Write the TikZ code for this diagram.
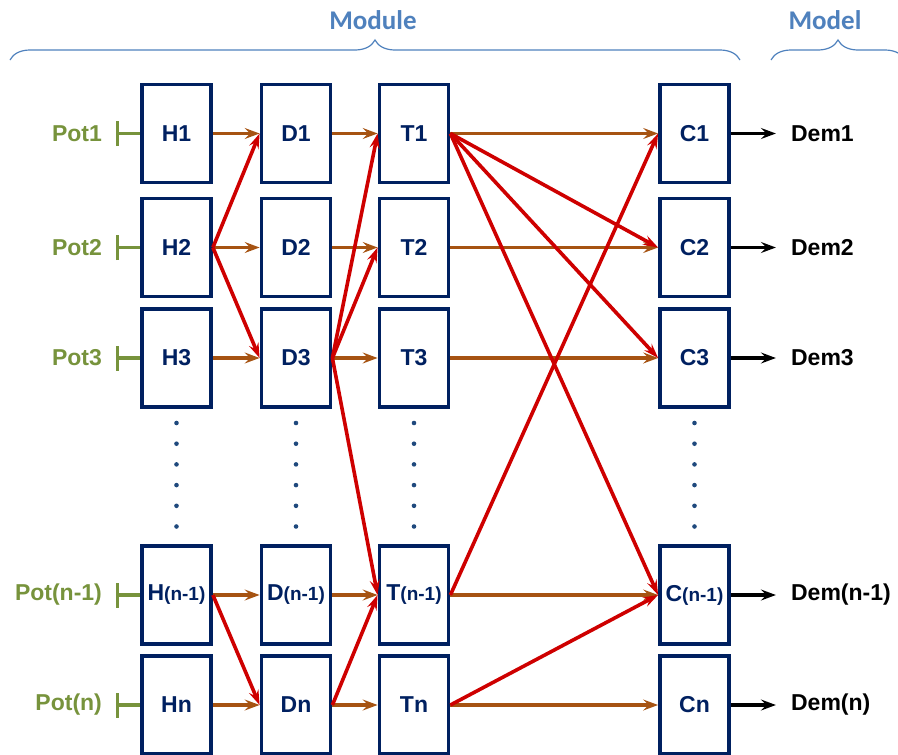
\documentclass[tikz,border=0pt]{standalone}
\usepackage{fontspec}
\setmainfont{Liberation Sans}
\newfontfamily\calib{Carlito}
\usetikzlibrary{arrows.meta,decorations.pathreplacing,calc}
\definecolor{navy}{RGB}{0,32,96}
\definecolor{brn}{RGB}{166,83,18}
\definecolor{rd}{RGB}{206,0,0}
\definecolor{grn}{RGB}{119,147,60}
\definecolor{bl}{RGB}{79,129,189}
\definecolor{dotc}{RGB}{31,73,125}
\tikzset{
  blk/.style={draw=navy,line width=3.8pt,minimum width=69pt,minimum height=98pt,inner sep=0pt,
    text=navy,font=\bfseries\fontsize{23}{25}\selectfont},
  brarrow/.style={draw=brn,line width=3.3pt,-{Stealth[length=15pt,width=11pt,inset=5.5pt]}},
  rdarrow/.style={draw=rd,line width=3.6pt,-{Stealth[length=15pt,width=10pt,inset=5.5pt]}},
  bkarrow/.style={draw=black,line width=3.3pt,-{Stealth[length=15pt,width=11pt,inset=5.5pt]}},
  potlbl/.style={anchor=east,text=grn,font=\bfseries\fontsize{23}{25}\selectfont,inner sep=0pt},
  potline/.style={draw=grn,line width=3.3pt,{Bar[width=25pt]}-},
  demlbl/.style={anchor=west,font=\bfseries\fontsize{23}{25}\selectfont,inner sep=0pt},
  hdr/.style={text=bl,font=\calib\bfseries\fontsize{27}{29}\selectfont},
  brc/.style={draw=bl,line width=1.2pt,decorate,decoration={brace,amplitude=20pt}}
}
\newcommand{\smtxt}[1]{{\fontsize{19}{21}\selectfont #1}}
\begin{document}
\begin{tikzpicture}[x=1pt,y=-1pt]
\useasboundingbox (0,0) rectangle (898,755);
\clip (0,0) rectangle (898,755);
% blocks
\node[blk] (H1) at (176.5,133.5) {H1};
\node[blk] (H2) at (176.5,247.5) {H2};
\node[blk] (H3) at (176.5,358) {H3};
\node[blk] (Hm) at (176.5,595) {H\smtxt{(n-1)}};
\node[blk] (Hn) at (176.5,705) {Hn};
\node[blk] (D1) at (296,133.5) {D1};
\node[blk] (D2) at (296,247.5) {D2};
\node[blk] (D3) at (296,358) {D3};
\node[blk] (Dm) at (296,595) {D\smtxt{(n-1)}};
\node[blk] (Dn) at (296,705) {Dn};
\node[blk] (T1) at (414,133.5) {T1};
\node[blk] (T2) at (414,247.5) {T2};
\node[blk] (T3) at (414,358) {T3};
\node[blk] (Tm) at (414,595) {T\smtxt{(n-1)}};
\node[blk] (Tn) at (414,705) {Tn};
\node[blk] (C1) at (694.5,133.5) {C1};
\node[blk] (C2) at (694.5,247.5) {C2};
\node[blk] (C3) at (694.5,358) {C3};
\node[blk] (Cm) at (694.5,595) {C\smtxt{(n-1)}};
\node[blk] (Cn) at (694.5,705) {Cn};
% dots
\foreach \x in {176.5,296,414,694.5}{
  \foreach \y in {423,443.7,464.4,485.1,505.8,526.5}{
    \fill[dotc] (\x,\y) circle (2.3pt);
  }
}
% pot inputs
\foreach \r/\t in {1/Pot1,2/Pot2,3/Pot3,m/Pot(n-1),n/Pot(n)}{
  \coordinate (k\r) at ($(H\r.west)+(-24,0)$);
  \node[potlbl] (P\r) at ($(k\r)+(-14,0)$) {\t};
  \draw[potline] (k\r) -- (H\r.west);
}
% demand outputs
\foreach \r/\t in {1/Dem1,2/Dem2,3/Dem3,m/Dem(n-1),n/Dem(n)}{
  \node[demlbl] (E\r) at ($(C\r.east)+(60,0)$) {\t};
  \draw[bkarrow] (C\r.east) -- ++(45,0);
}
% brown straight flows
\foreach \r in {1,2,3,m,n}{
  \draw[brarrow] (H\r.east) -- (D\r.west);
  \draw[brarrow] (D\r.east) -- (T\r.west);
  \draw[brarrow] (T\r.east) -- (C\r.west);
}
% red cross flows
\draw[rdarrow] (H2.east) -- (D1.west);
\draw[rdarrow] (H2.east) -- (D3.west);
\draw[rdarrow] (D3.east) -- (T1.west);
\draw[rdarrow] (D3.east) -- (T2.west);
\draw[rdarrow] (D3.east) -- (Tm.west);
\draw[rdarrow] (Hm.east) -- (Dn.west);
\draw[rdarrow] (Dn.east) -- (Tm.west);
\draw[rdarrow] (T1.east) -- (C2.west);
\draw[rdarrow] (T1.east) -- (C3.west);
\draw[rdarrow] (T1.east) -- (Cm.west);
\draw[rdarrow] (Tm.east) -- (C1.west);
\draw[rdarrow] (Tn.east) -- (Cm.west);
% braces and headers
\coordinate (mb1) at (10,60);
\coordinate (mb2) at (740,60);
\coordinate (db1) at (771,60);
\coordinate (db2) at (905,60);
\draw[brc] (mb1) -- (mb2);
\draw[brc] (db1) -- (db2);
\node[hdr] (modl) at (373,20) {Module};
\node[hdr] (mdl) at (825,20) {Model};
\end{tikzpicture}
\end{document}
